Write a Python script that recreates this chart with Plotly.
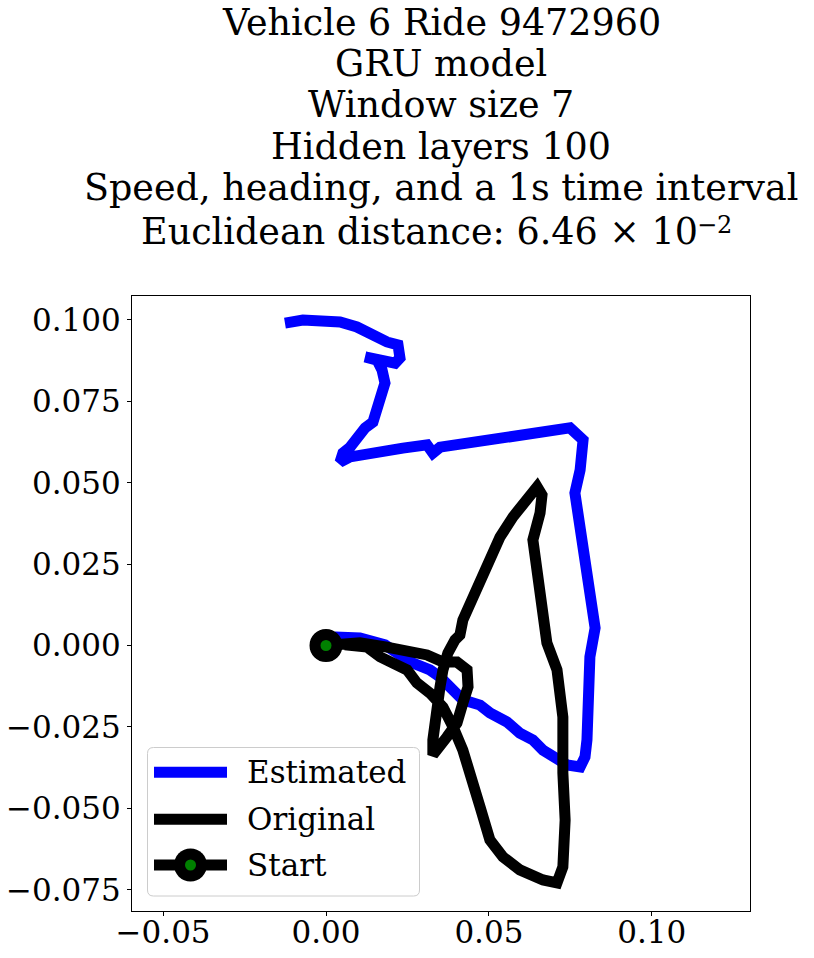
import plotly.graph_objects as go

# trajectory values (relative position)
est_x = [0.0000, 0.0034, 0.0104, 0.0181, 0.0227, 0.0267, 0.0319, 0.0350, 0.0420, 0.0473,
         0.0503, 0.0556, 0.0595, 0.0635, 0.0666, 0.0709, 0.0740, 0.0780, 0.0795, 0.0801,
         0.0804, 0.0810, 0.0826, 0.0801, 0.0789, 0.0764, 0.0780, 0.0789, 0.0749, 0.0709,
         0.0666, 0.0626, 0.0543, 0.0442, 0.0350, 0.0328, 0.0310, 0.0236, 0.0135, 0.0074,
         0.0043, 0.0052, 0.0074, 0.0104, 0.0120, 0.0144, 0.0166, 0.0181, 0.0172, 0.0157,
         0.0120, 0.0160, 0.0212, 0.0227, 0.0221, 0.0187, 0.0135, 0.0095, 0.0043, -0.0009,
         -0.0071, -0.0126]
est_y = [0.0000, 0.0026, 0.0023, 0.0002, -0.0029, -0.0054, -0.0075, -0.0097, -0.0167, -0.0183,
         -0.0207, -0.0235, -0.0269, -0.0290, -0.0321, -0.0352, -0.0367, -0.0373, -0.0342, -0.0290,
         -0.0137, -0.0035, 0.0054, 0.0201, 0.0302, 0.0468, 0.0539, 0.0631, 0.0668, 0.0662,
         0.0652, 0.0652, 0.0637, 0.0622, 0.0609, 0.0591, 0.0616, 0.0606, 0.0591, 0.0579,
         0.0563, 0.0591, 0.0609, 0.0652, 0.0668, 0.0686, 0.0754, 0.0806, 0.0846, 0.0876,
         0.0886, 0.0876, 0.0867, 0.0883, 0.0923, 0.0932, 0.0963, 0.0978, 0.0993, 0.0999,
         0.0999, 0.0990]

orig_x = [0.0000, 0.0052, 0.0104, 0.0187, 0.0258, 0.0310, 0.0359, 0.0402, 0.0433, 0.0436,
          0.0420, 0.0402, 0.0371, 0.0341, 0.0328, 0.0328, 0.0335, 0.0350, 0.0359, 0.0374,
          0.0396, 0.0411, 0.0420, 0.0451, 0.0482, 0.0513, 0.0534, 0.0574, 0.0605, 0.0648,
          0.0663, 0.0657, 0.0635, 0.0648, 0.0657, 0.0678, 0.0709, 0.0724, 0.0727, 0.0727,
          0.0734, 0.0727, 0.0709, 0.0666, 0.0595, 0.0543, 0.0503, 0.0473, 0.0451, 0.0420,
          0.0390, 0.0359, 0.0319, 0.0279, 0.0249, 0.0206, 0.0166, 0.0126, 0.0058]
orig_y = [0.0000, 0.0008, 0.0008, -0.0005, -0.0020, -0.0029, -0.0051, -0.0051, -0.0075, -0.0127,
          -0.0177, -0.0238, -0.0281, -0.0321, -0.0336, -0.0290, -0.0220, -0.0127, -0.0075, -0.0023,
          0.0017, 0.0032, 0.0078, 0.0149, 0.0223, 0.0284, 0.0333, 0.0395, 0.0438, 0.0487,
          0.0462, 0.0407, 0.0324, 0.0232, 0.0130, 0.0008, -0.0075, -0.0167, -0.0220, -0.0391,
          -0.0536, -0.0680, -0.0729, -0.0720, -0.0689, -0.0649, -0.0597, -0.0496, -0.0413, -0.0321,
          -0.0250, -0.0189, -0.0146, -0.0115, -0.0075, -0.0054, -0.0035, -0.0005, 0.0002]

start_x = [0.0]
start_y = [0.0]

x_ticks = [-0.05, 0.0, 0.05, 0.10]
x_labels = ["\u22120.05", "0.00", "0.05", "0.10"]
y_ticks = [-0.075, -0.05, -0.025, 0.0, 0.025, 0.05, 0.075, 0.1]
y_labels = ["\u22120.075", "\u22120.050", "\u22120.025", "0.000", "0.025", "0.050", "0.075", "0.100"]

title_lines = [
    "Vehicle 6 Ride 9472960",
    "GRU model",
    "Window size 7",
    "Hidden layers 100",
    "Speed, heading, and a 1s time interval",
    "Euclidean distance: 6.46 \u00d7 10",
]
title_exponent = "\u22122"
legend_names = ["Estimated", "Original", "Start"]

SERIF = "DejaVu Serif"
W, H = 814, 958
L, R, T, B = 132, 64, 296, 47
PW, PH = W - L - R, H - T - B


def px(x):
    return (x - L) / PW


def py(y):
    return (H - B - y) / PH


fig = go.Figure()

fig.add_trace(go.Scatter(
    x=est_x, y=est_y, mode="lines",
    line=dict(color="blue", width=11),
    name="Estimated"
))
fig.add_trace(go.Scatter(
    x=orig_x, y=orig_y, mode="lines",
    line=dict(color="black", width=11),
    name="Original"
))
fig.add_trace(go.Scatter(
    x=start_x, y=start_y, mode="lines+markers",
    line=dict(color="black", width=11),
    marker=dict(size=22, color="green", line=dict(color="black", width=11)),
    name="Start"
))

# title, one annotation per line (matplotlib-like line spacing)
annotations = []
baselines = [36, 77.3, 119, 160.7, 202, 245]
for i, (txt, bl) in enumerate(zip(title_lines, baselines)):
    last = i == len(title_lines) - 1
    annotations.append(dict(
        text=txt, xref="paper", yref="paper",
        x=px(700) if last else 0.5, y=py(bl + 9.5),
        xanchor="right" if last else "center", yanchor="bottom", showarrow=False,
        font=dict(family=SERIF, size=36.5, color="black"),
    ))
# exponent of the distance, set like mathtext
annotations.append(dict(
    text=title_exponent, xref="paper", yref="paper",
    x=px(695), y=py(234 + 6.7),
    xanchor="left", yanchor="bottom", showarrow=False,
    font=dict(family=SERIF, size=24, color="black"),
))

# legend drawn by hand so the sample lines / marker keep their size
shapes = []
bx0, bx1, by0, by1, rad = 147.5, 419.5, 747.5, 896, 6
rx, ry = rad / PW, rad / PH
X0, X1, Y0, Y1 = px(bx0), px(bx1), py(by1), py(by0)
shapes.append(dict(
    type="path", xref="paper", yref="paper",
    path=(f"M{X0 + rx},{Y0} L{X1 - rx},{Y0} Q{X1},{Y0} {X1},{Y0 + ry} "
          f"L{X1},{Y1 - ry} Q{X1},{Y1} {X1 - rx},{Y1} L{X0 + rx},{Y1} "
          f"Q{X0},{Y1} {X0},{Y1 - ry} L{X0},{Y0 + ry} Q{X0},{Y0} {X0 + rx},{Y0} Z"),
    fillcolor="rgba(255,255,255,0.8)", line=dict(color="#cccccc", width=1),
))
rows = [772.3, 819.3, 865]
colors = ["blue", "black", "black"]
for name, yy, c in zip(legend_names, rows, colors):
    shapes.append(dict(
        type="line", xref="paper", yref="paper",
        x0=px(154), x1=px(227), y0=py(yy), y1=py(yy),
        line=dict(color=c, width=11),
    ))
    annotations.append(dict(
        text=name, xref="paper", yref="paper", x=px(245), y=py(yy),
        xanchor="left", yanchor="middle", showarrow=False,
        font=dict(family=SERIF, size=31, color="black"),
    ))
for d, c in [(33, "black"), (11, "green")]:
    shapes.append(dict(
        type="circle", xref="paper", yref="paper",
        xsizemode="pixel", ysizemode="pixel",
        xanchor=px(190.5), yanchor=py(rows[2]),
        x0=-d / 2, x1=d / 2, y0=-d / 2, y1=d / 2,
        fillcolor=c, line=dict(width=0),
    ))

axis_common = dict(
    showgrid=False, zeroline=False, automargin=False,
    showline=True, linecolor="black", linewidth=1, mirror=True,
    ticks="outside", ticklen=4, tickcolor="black", tickwidth=1,
    tickfont=dict(family=SERIF, size=31, color="black"),
)

fig.update_layout(
    width=W, height=H,
    paper_bgcolor="white", plot_bgcolor="white",
    margin=dict(l=L, r=R, t=T, b=B),
    xaxis=dict(range=[-(326 - L) / 3258, (W - R - 326) / 3258],
               tickvals=x_ticks, ticktext=x_labels, ticklabelstandoff=-10,
               **axis_common),
    yaxis=dict(range=[-(H - B - 645.5) / 3257, (645.5 - T) / 3257],
               tickvals=y_ticks, ticktext=y_labels, **axis_common),
    showlegend=False,
    annotations=annotations,
    shapes=shapes,
)

fig.write_html("out.html", config={"displayModeBar": False},
               post_script="document.body.style.margin='0';")
